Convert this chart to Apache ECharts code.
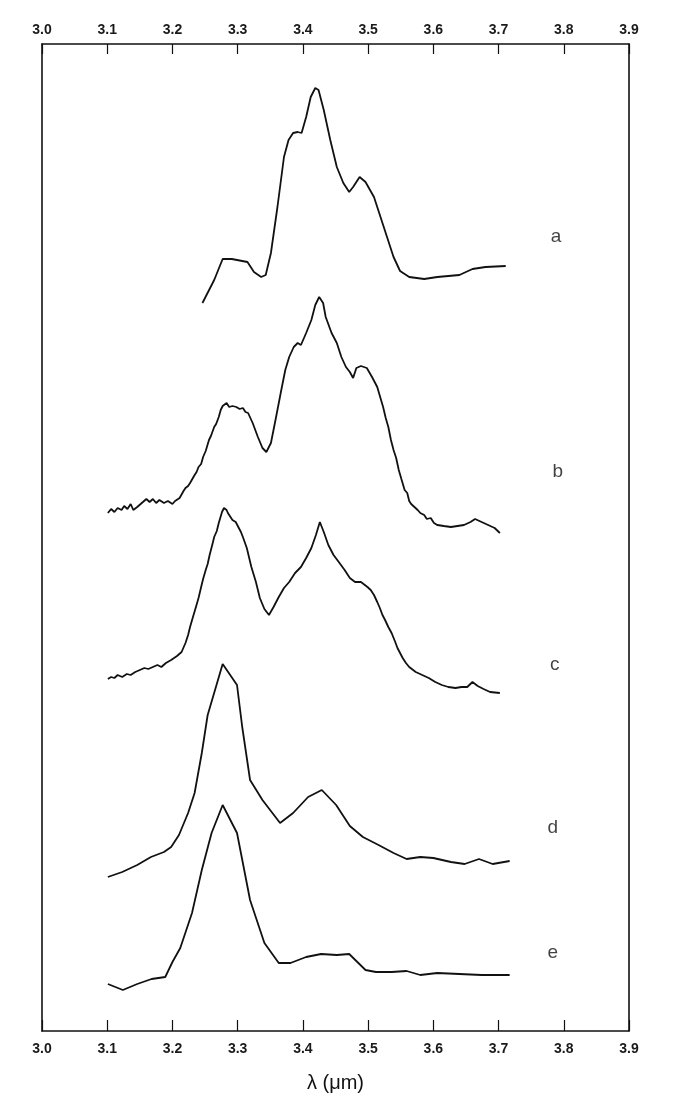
<!DOCTYPE html>
<html>
<head>
<meta charset="utf-8">
<script src="https://cdn.jsdelivr.net/npm/echarts@6/dist/echarts.min.js"></script>
<style>
  html, body { margin: 0; padding: 0; background: #fff; }
  #chart { width: 686px; height: 1100px; }
</style>
</head>
<body>
<div id="chart"></div>
<script>
// wavelength (um) and offset intensity (arbitrary units) for each trace
var aX = [3.246, 3.264, 3.277, 3.291, 3.315, 3.325, 3.336, 3.343, 3.351, 3.361, 3.371, 3.378, 3.385, 3.392, 3.398, 3.405, 3.412, 3.419, 3.424, 3.432, 3.442, 3.452, 3.462, 3.471, 3.477, 3.487, 3.496, 3.509, 3.519, 3.529, 3.539, 3.549, 3.563, 3.586, 3.606, 3.640, 3.660, 3.680, 3.711];
var aY = [728, 751, 772, 772, 769, 759, 754, 756, 778, 824, 874, 891, 898, 899, 898, 914, 934, 943, 941, 921, 891, 864, 848, 839, 844, 854, 849, 834, 814, 794, 774, 760, 754, 752, 754, 756, 762, 764, 765];

var bX = [3.101, 3.106, 3.111, 3.116, 3.122, 3.126, 3.131, 3.136, 3.140, 3.146, 3.153, 3.160, 3.165, 3.170, 3.175, 3.180, 3.187, 3.193, 3.200, 3.204, 3.207, 3.211, 3.214, 3.217, 3.220, 3.224, 3.227, 3.230, 3.234, 3.237, 3.240, 3.244, 3.247, 3.251, 3.256, 3.259, 3.264, 3.267, 3.271, 3.274, 3.277, 3.280, 3.283, 3.287, 3.292, 3.298, 3.303, 3.308, 3.312, 3.316, 3.323, 3.331, 3.338, 3.344, 3.351, 3.358, 3.366, 3.373, 3.379, 3.386, 3.392, 3.397, 3.405, 3.413, 3.419, 3.425, 3.431, 3.435, 3.444, 3.452, 3.459, 3.466, 3.472, 3.477, 3.482, 3.489, 3.498, 3.506, 3.514, 3.523, 3.527, 3.531, 3.535, 3.539, 3.543, 3.547, 3.551, 3.556, 3.560, 3.563, 3.566, 3.571, 3.576, 3.580, 3.586, 3.590, 3.596, 3.601, 3.606, 3.616, 3.627, 3.637, 3.647, 3.657, 3.664, 3.674, 3.684, 3.694, 3.702];
var bY = [518, 522, 519, 523, 521, 525, 522, 527, 521, 524, 528, 532, 529, 532, 528, 531, 528, 530, 527, 530, 529, 533, 534, 540, 543, 545, 548, 549, 556, 559, 564, 567, 574, 580, 591, 595, 604, 607, 614, 621, 625, 627, 628, 624, 625, 624, 622, 623, 619, 618, 608, 594, 583, 579, 588, 611, 638, 661, 674, 684, 688, 686, 698, 711, 726, 734, 728, 714, 698, 688, 674, 664, 659, 653, 663, 665, 663, 654, 644, 624, 613, 604, 591, 581, 573, 561, 552, 541, 538, 530, 527, 524, 521, 518, 516, 512, 513, 508, 506, 505, 504, 505, 506, 509, 512, 509, 506, 503, 498];

var cX = [3.101, 3.106, 3.111, 3.116, 3.123, 3.130, 3.136, 3.143, 3.150, 3.157, 3.163, 3.170, 3.177, 3.183, 3.190, 3.198, 3.207, 3.214, 3.220, 3.224, 3.227, 3.231, 3.236, 3.240, 3.244, 3.247, 3.251, 3.254, 3.257, 3.261, 3.264, 3.268, 3.271, 3.276, 3.279, 3.281, 3.283, 3.285, 3.289, 3.292, 3.297, 3.301, 3.305, 3.308, 3.314, 3.321, 3.328, 3.334, 3.341, 3.348, 3.355, 3.363, 3.371, 3.379, 3.388, 3.397, 3.405, 3.413, 3.420, 3.426, 3.432, 3.439, 3.447, 3.455, 3.464, 3.472, 3.480, 3.489, 3.499, 3.504, 3.509, 3.514, 3.518, 3.522, 3.526, 3.531, 3.536, 3.541, 3.545, 3.549, 3.553, 3.558, 3.563, 3.573, 3.583, 3.593, 3.603, 3.613, 3.623, 3.634, 3.643, 3.652, 3.660, 3.668, 3.677, 3.687, 3.702];
var cY = [352, 354, 353, 356, 354, 357, 356, 359, 361, 363, 362, 364, 366, 364, 368, 371, 375, 379, 388, 396, 404, 413, 424, 433, 444, 452, 461, 467, 476, 486, 494, 500, 508, 519, 523, 525, 521, 518, 514, 511, 509, 504, 499, 494, 483, 464, 449, 433, 422, 416, 424, 434, 443, 449, 458, 464, 473, 483, 496, 509, 499, 486, 476, 469, 461, 453, 449, 449, 444, 441, 436, 429, 423, 416, 411, 404, 398, 390, 383, 378, 373, 368, 364, 359, 356, 353, 349, 346, 344, 343, 344, 344, 349, 345, 342, 339, 338];

var dX = [3.101, 3.123, 3.146, 3.167, 3.187, 3.198, 3.210, 3.224, 3.234, 3.245, 3.254, 3.277, 3.299, 3.307, 3.319, 3.338, 3.365, 3.385, 3.408, 3.429, 3.451, 3.472, 3.492, 3.516, 3.539, 3.559, 3.580, 3.600, 3.627, 3.648, 3.670, 3.691, 3.717];
var dY = [154, 159, 166, 174, 179, 184, 196, 218, 238, 278, 316, 367, 346, 304, 251, 231, 208, 218, 234, 241, 226, 205, 194, 186, 178, 172, 174, 173, 169, 167, 172, 167, 170];

var eX = [3.101, 3.124, 3.146, 3.168, 3.189, 3.200, 3.212, 3.230, 3.245, 3.260, 3.277, 3.299, 3.319, 3.341, 3.363, 3.381, 3.405, 3.428, 3.452, 3.471, 3.496, 3.512, 3.536, 3.559, 3.580, 3.606, 3.640, 3.674, 3.717];
var eY = [47, 41, 47, 52, 54, 69, 83, 118, 161, 198, 226, 198, 131, 88, 68, 68, 74, 77, 76, 77, 61, 59, 59, 60, 56, 58, 57, 56, 56];

var traceNames = ['a', 'b', 'c', 'd', 'e'];
var labelX = [3.788, 3.791, 3.786, 3.783, 3.783];
var labelY = [794, 559, 366, 203, 78];

var xTicks = ['3.0', '3.1', '3.2', '3.3', '3.4', '3.5', '3.6', '3.7', '3.8', '3.9'];

function zip(xs, ys) {
    return xs.map(function (x, i) { return [x, ys[i]]; });
}

var myChart = echarts.init(document.getElementById('chart'));

var tickFont = {
    color: '#1a1a1a',
    fontSize: 14,
    fontWeight: 'bold',
    fontFamily: 'Liberation Sans',
    formatter: function (v) { return xTicks[Math.round((v - 3) * 10)]; }
};

var traces = [aX, bX, cX, dX, eX].map(function (xs, i) {
    return {
        name: traceNames[i],
        type: 'line',
        data: zip(xs, [aY, bY, cY, dY, eY][i]),
        symbol: 'none',
        smooth: false,
        lineStyle: { color: '#111', width: 1.8 },
        silent: true
    };
});

var option = {
    animation: false,
    backgroundColor: '#fff',
    grid: { left: 42, right: 57, top: 44, bottom: 69 },
    xAxis: [
        {
            type: 'value',
            position: 'bottom',
            min: 3.0,
            max: 3.9,
            interval: 0.1,
            name: 'λ (μm)',
            nameLocation: 'middle',
            nameGap: 42,
            nameTextStyle: { fontSize: 20, color: '#111', fontFamily: 'Liberation Sans' },
            axisLine: { onZero: false, lineStyle: { color: '#111', width: 1.6 } },
            axisTick: { inside: true, length: 11, lineStyle: { color: '#111', width: 1.2 } },
            axisLabel: Object.assign({ margin: 11 }, tickFont),
            splitLine: { show: false }
        },
        {
            type: 'value',
            position: 'top',
            min: 3.0,
            max: 3.9,
            interval: 0.1,
            axisLine: { onZero: false, lineStyle: { color: '#111', width: 1.6 } },
            axisTick: { inside: true, length: 10, lineStyle: { color: '#111', width: 1.2 } },
            axisLabel: Object.assign({ margin: 7 }, tickFont),
            splitLine: { show: false }
        }
    ],
    yAxis: [
        {
            type: 'value',
            min: 0,
            max: 987,
            axisLine: { show: true, onZero: false, lineStyle: { color: '#111', width: 1.6 } },
            axisTick: { show: false },
            axisLabel: { show: false },
            splitLine: { show: false }
        },
        {
            type: 'value',
            position: 'right',
            min: 0,
            max: 987,
            axisLine: { show: true, onZero: false, lineStyle: { color: '#111', width: 1.6 } },
            axisTick: { show: false },
            axisLabel: { show: false },
            splitLine: { show: false }
        }
    ],
    series: traces.concat([
        {
            type: 'scatter',
            data: zip(labelX, labelY),
            symbolSize: 0,
            silent: true,
            label: {
                show: true,
                position: 'inside',
                fontSize: 19,
                color: '#111',
                fontFamily: 'Liberation Sans',
                formatter: function (p) { return traceNames[p.dataIndex]; }
            }
        }
    ])
};

myChart.setOption(option);
</script>
</body>
</html>
